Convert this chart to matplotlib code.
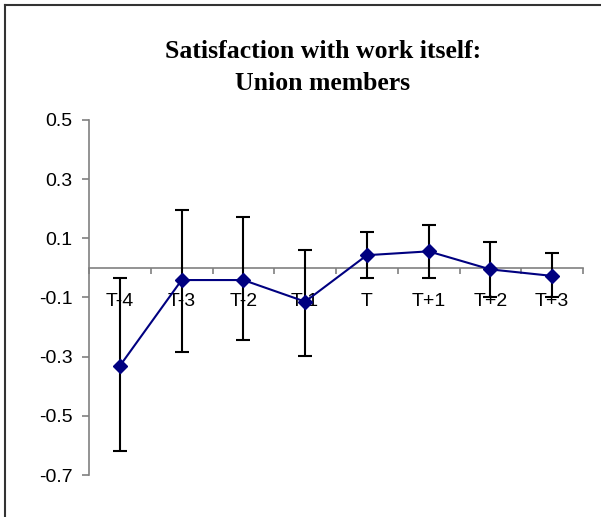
import numpy as np
import matplotlib
matplotlib.use("Agg")
import matplotlib.pyplot as plt
from matplotlib.lines import Line2D

categorii = ["T-4", "T-3", "T-2", "T-1", "T", "T+1", "T+2", "T+3"]
medii = [-0.331, -0.041, -0.041, -0.114, 0.043, 0.056, -0.005, -0.027]
limita_sus = [-0.034, 0.197, 0.172, 0.061, 0.123, 0.144, 0.089, 0.050]
limita_jos = [-0.620, -0.283, -0.243, -0.297, -0.033, -0.033, -0.098, -0.098]
valori_y = [-0.7, -0.5, -0.3, -0.1, 0.1, 0.3, 0.5]

plt.rcParams['font.family'] = ['Liberation Sans', 'DejaVu Sans']

fig = plt.figure(figsize=(6.01, 5.17), dpi=100)
W, H = 601, 517
ax = fig.add_axes([89 / W, (H - 475) / H, (583 - 89) / W, (475 - 120) / H])

x = np.arange(1, len(categorii) + 1)
medii = np.array(medii)
err = [medii - np.array(limita_jos), np.array(limita_sus) - medii]

ax.errorbar(x, medii, yerr=err, fmt='none', ecolor='black', elinewidth=1.5,
            capsize=4.8, capthick=1.5, zorder=3)
ax.plot(x, medii, color='#000080', lw=1.5, marker='D', markersize=7.5,
        markerfacecolor='#000080', markeredgecolor='#000080', zorder=4)

ax.set_xlim(0.5, len(categorii) + 0.5)
ax.set_ylim(-0.7, 0.5)
ax.set_yticks(valori_y)
ax.set_yticklabels([f"{v:.1f}" for v in valori_y], fontsize=14)

for s in ['top', 'right']:
    ax.spines[s].set_visible(False)
ax.spines['bottom'].set_position(('data', 0))
ax.spines['bottom'].set_color('#808080')
ax.spines['left'].set_color('#808080')
ax.spines['bottom'].set_linewidth(1.2)
ax.spines['left'].set_linewidth(1.2)
ax.spines['bottom'].set_zorder(2)

ax.set_xticks(np.arange(0.5, len(categorii) + 1, 1))
ax.set_xticklabels([])
ax.tick_params(axis='x', which='major', direction='out', length=4, color='#808080', width=1.2)
ax.set_xticks(x, minor=True)
ax.set_xticklabels(categorii, minor=True, fontsize=14)
ax.tick_params(axis='x', which='minor', length=0, pad=18)
ax.tick_params(axis='y', direction='out', length=5, color='#808080', width=1.2, pad=7)

fig.text(323 / W, 1 - 51 / H, "Satisfaction with work itself:", ha='center', va='center',
         fontsize=18.5, fontweight='bold', family='Liberation Serif')
fig.text(323 / W, 1 - 83 / H, "Union members", ha='center', va='center',
         fontsize=18.5, fontweight='bold', family='Liberation Serif')

# chenar
fig.add_artist(Line2D([4.5 / W, 1], [1 - 4.5 / H, 1 - 4.5 / H], color='#333333', lw=1.5))
fig.add_artist(Line2D([4.5 / W, 4.5 / W], [0, 1 - 4.5 / H], color='#333333', lw=1.5))

fig.savefig("out.png", dpi=100)
